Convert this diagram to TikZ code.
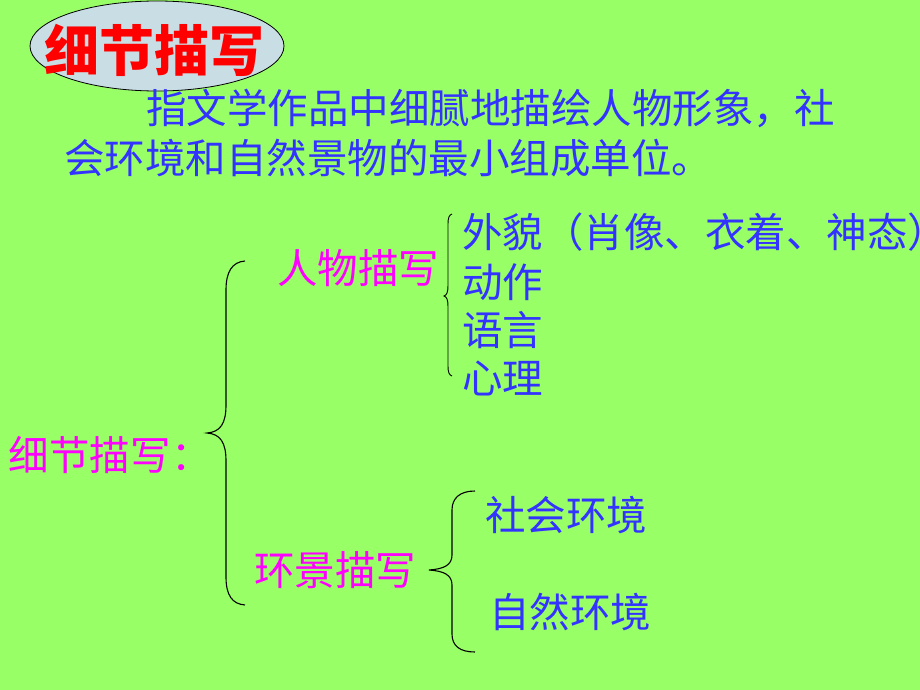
\documentclass[tikz,border=0pt]{standalone}
\usepackage{fontspec}
\setmainfont{Noto Sans CJK SC}
\newfontfamily\cjk{Noto Sans CJK SC}
\usetikzlibrary{shapes.geometric}
\definecolor{bggreen}{RGB}{153,255,102}
\definecolor{txtblue}{RGB}{51,51,255}
\definecolor{txtmag}{RGB}{255,0,255}
\definecolor{ellfill}{RGB}{200,222,228}
\tikzset{
  base/.style={inner sep=0pt, outer sep=0pt, anchor=west},
  bluetxt/.style={base, text=txtblue, font=\cjk\fontsize{40.5}{44}\selectfont},
  magtxt/.style={base, text=txtmag, font=\cjk\fontsize{40.5}{44}\selectfont},
  brace/.style={draw=black, line width=1.1pt}
}
\begin{document}
\begin{tikzpicture}[x=1pt,y=-1pt]
\fill[bggreen] (0,0) rectangle (920,690);
\useasboundingbox (0,0) rectangle (920,690);
% title ellipse
\node[ellipse, draw=black, line width=0.8pt, fill=ellfill, minimum width=254pt, minimum height=90pt, inner sep=0pt] (ell) at (157,46) {};
\node[base, text=red, font=\cjk\bfseries\fontsize{55}{60}\selectfont] (title) at (44,50) {细节描写};
% definition
\node[bluetxt] (def1) at (146,108) {指文学作品中细腻地描绘人物形象，社};
\node[bluetxt] (def2) at (64,158) {会环境和自然景物的最小组成单位。};
% main label
\node[magtxt] (main) at (9,455) {细节描写：};
\node[magtxt] (renwu) at (277,268) {人物描写};
\node[magtxt] (huanjing) at (254,570) {环景描写};
% person items
\node[bluetxt] (p1) at (462,232) {外貌（肖像、衣着、神态）};
\node[bluetxt] (p2) at (462,282) {动作};
\node[bluetxt] (p3) at (462,330) {语言};
\node[bluetxt] (p4) at (462,378) {心理};
% environment items
\node[bluetxt] (e1) at (485,515) {社会环境};
\node[bluetxt] (e2) at (489,612) {自然环境};
% big brace
\draw[brace] (245,261) .. controls (232,262) and (226,272) .. (226,290)
  -- (226,405) .. controls (226,424) and (220,432) .. (207,433)
  .. controls (220,434) and (226,442) .. (226,461)
  -- (226,577) .. controls (226,595) and (232,604) .. (245,605);
% person brace
\draw[brace, line width=0.9pt] (452,214) .. controls (449,215) and (448,218) .. (448,224)
  -- (448,285) .. controls (448,292) and (447,295) .. (444,296)
  .. controls (447,297) and (448,300) .. (448,307)
  -- (448,366) .. controls (448,372) and (449,375) .. (452,376);
% environment brace
\draw[brace] (475,491) .. controls (460,491) and (452,498) .. (452,510)
  -- (452,555) .. controls (452,565) and (444,569) .. (429,570)
  .. controls (444,571) and (452,575) .. (452,585)
  -- (452,634) .. controls (452,646) and (460,652) .. (475,652);
\end{tikzpicture}
\end{document}
